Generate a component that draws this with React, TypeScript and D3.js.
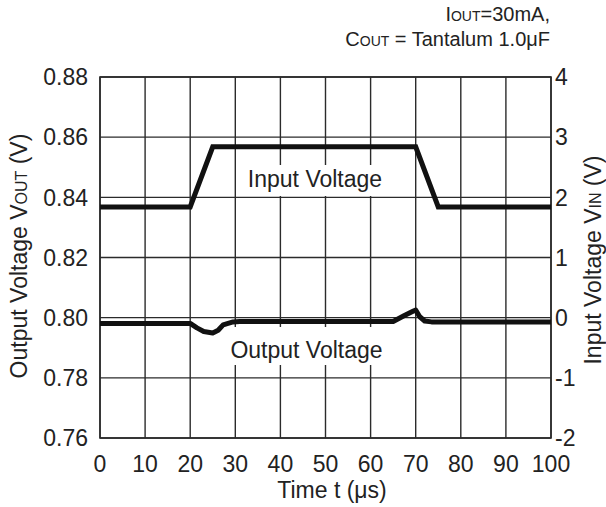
import React from "react";
import * as d3 from "d3";

const xTicks = [0, 10, 20, 30, 40, 50, 60, 70, 80, 90, 100];
const yLeftTicks = [0.76, 0.78, 0.8, 0.82, 0.84, 0.86, 0.88];
const yRightTicks = [-2, -1, 0, 1, 2, 3, 4];

const inputT = [0, 20, 25, 70, 75, 100];
const inputV = [1.84, 1.84, 2.84, 2.84, 1.84, 1.84];

const outputT = [0, 20, 21.5, 23, 25, 26.2, 27.3, 29.5, 31, 65, 67.5, 69.5, 70, 70.9, 72, 73.5, 100];
const outputV = [0.7981, 0.7981, 0.7966, 0.7954, 0.7949, 0.7958, 0.7976, 0.7986, 0.7987, 0.7987, 0.8007, 0.8022, 0.8025, 0.8003, 0.7989, 0.7986, 0.7986];

const FONT = "'Liberation Sans', Arial, Helvetica, sans-serif";

export default function App() {
  const W = 606, H = 507;
  const x = d3.scaleLinear().domain([0, 100]).range([100, 551]);
  const yL = d3.scaleLinear().domain([0.76, 0.88]).range([438, 77]);
  const yR = d3.scaleLinear().domain([-2, 4]).range([438, 77]);

  const inLine = d3.line<number>().x((_, i) => x(inputT[i])).y((d) => yR(d))(inputV) || "";
  const outLine = d3
    .line<number>()
    .x((_, i) => x(outputT[i]))
    .y((d) => yL(d))(outputV) || "";

  const grid = "#2b2b2b";
  const txt = "#222";

  return (
    <svg
      width={W}
      height={H}
      style={{ position: "absolute", left: 0, top: 0, background: "#fff" }}
      fontFamily={FONT}
    >
      <rect x={0} y={0} width={W} height={H} fill="#fff" />
      {/* vertical gridlines */}
      {xTicks.map((t) => (
        <line key={"vx" + t} x1={x(t)} x2={x(t)} y1={yL(0.88)} y2={yL(0.76)} stroke={grid} strokeWidth={1.4} />
      ))}
      {/* label boxes */}
      <rect x={241} y={165} width={149} height={31} fill="#fff" />
      <rect x={223} y={327} width={168} height={38} fill="#fff" />
      {/* horizontal gridlines */}
      {yLeftTicks.map((v) => (
        <line key={"hy" + v} x1={x(0)} x2={x(100)} y1={yL(v)} y2={yL(v)} stroke={grid} strokeWidth={1.4} />
      ))}
      {/* border */}
      <rect x={x(0)} y={yL(0.88)} width={x(100) - x(0)} height={yL(0.76) - yL(0.88)} fill="none" stroke={grid} strokeWidth={1.6} />

      {/* data */}
      <path d={inLine} fill="none" stroke="#111" strokeWidth={5} strokeLinejoin="miter" />
      <path d={outLine} fill="none" stroke="#111" strokeWidth={5} strokeLinejoin="round" />

      {/* series labels */}
      <text x={315} y={187} fontSize={23} fill={txt} textAnchor="middle">Input Voltage</text>
      <text x={306.5} y={358} fontSize={23} fill={txt} textAnchor="middle">Output Voltage</text>

      {/* left tick labels */}
      {yLeftTicks.map((v) => (
        <text key={"lt" + v} x={88} y={yL(v)} dy="0.36em" fontSize={23} fill={txt} textAnchor="end">
          {v.toFixed(2)}
        </text>
      ))}
      {/* right tick labels */}
      {yRightTicks.map((v) => (
        <text key={"rt" + v} x={555} y={yR(v)} dy="0.36em" fontSize={23} fill={txt} textAnchor="start">
          {String(v)}
        </text>
      ))}
      {/* x tick labels */}
      {xTicks.map((t) => (
        <text key={"xt" + t} x={x(t)} y={472} fontSize={23} fill={txt} textAnchor="middle">
          {String(t)}
        </text>
      ))}

      {/* axis titles */}
      <text x={332} y={498} fontSize={23} fill={txt} textAnchor="middle">Time t (μs)</text>
      <text transform="translate(27,256) rotate(-90)" fontSize={23} fill={txt} textAnchor="middle">
        Output Voltage V<tspan fontSize={16}>OUT</tspan> (V)
      </text>
      <text transform="translate(601,260) rotate(-90)" fontSize={23} fill={txt} textAnchor="middle">
        Input Voltage V<tspan fontSize={16}>IN</tspan> (V)
      </text>

      {/* conditions */}
      <text x={550} y={21} fontSize={20} fill={txt} textAnchor="end">
        I<tspan fontSize={14}>OUT</tspan>=30mA,
      </text>
      <text x={550} y={46} fontSize={20} fill={txt} textAnchor="end">
        C<tspan fontSize={14}>OUT</tspan> = Tantalum 1.0μF
      </text>
    </svg>
  );
}
